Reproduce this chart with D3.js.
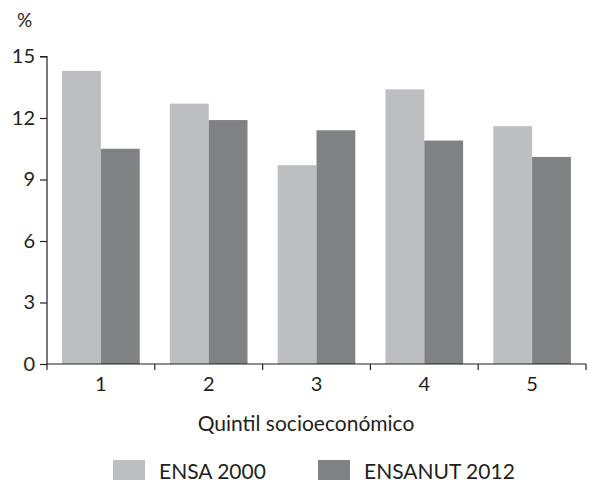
<!DOCTYPE html>
<html><head><meta charset="utf-8">
<script src="https://cdn.jsdelivr.net/npm/d3@7"></script>
<style>body{margin:0;background:#fff}svg{display:block}text{font-family:Lato,"Open Sans",sans-serif;fill:#231f20}</style>
</head><body>
<script>
const categories = ["1","2","3","4","5"];
const seriesNames = ["ENSA 2000","ENSANUT 2012"];
const ensa2000 = [14.3,12.7,9.7,13.4,11.6];
const ensanut2012 = [10.5,11.9,11.4,10.9,10.1];
const yTicks = [0,3,6,9,12,15];
const colors = ["#bdbec1","#808184"];

const W=589,H=483;
const svg=d3.select("body").append("svg").attr("width",W).attr("height",H);
const x=d3.scaleBand().domain(categories).range([47,586]).paddingInner(0.28).paddingOuter(0.14);
const xs=d3.scaleBand().domain(seriesNames).range([0,x.bandwidth()]);
const y=d3.scaleLinear().domain([0,15]).range([364,56.5]);
const series=[ensa2000,ensanut2012];

series.forEach((vals,si)=>{
  svg.append("g").selectAll("rect").data(vals).join("rect")
    .attr("x",(d,i)=>x(categories[i])+xs(seriesNames[si]))
    .attr("width",xs.bandwidth())
    .attr("y",d=>y(d)).attr("height",d=>y(0)-y(d))
    .attr("fill",colors[si]);
});

// y axis
const ya=svg.append("g").attr("transform","translate(47,0)")
  .call(d3.axisLeft(y).tickValues(yTicks).tickSize(7).tickPadding(5));
ya.select(".domain").attr("stroke","#231f20").attr("stroke-width",1.2).attr("d","M-7,56.5H0V364");
ya.selectAll(".tick line").attr("stroke","#231f20").attr("stroke-width",1.2);
ya.selectAll(".tick text").style("font-size","20px").attr("fill","#231f20");

// x axis
const step=x.step();
const xa=svg.append("g").attr("transform","translate(0,364)");
xa.append("line").attr("x1",47).attr("x2",586).attr("stroke","#231f20").attr("stroke-width",1.2);
const bounds=categories.map(c=>x(c)-x.paddingInner()*step/2);
bounds.push(x(categories[4])+x.bandwidth()+x.paddingInner()*step/2);
xa.selectAll("line.t").data(bounds).join("line").attr("class","t")
  .attr("x1",d=>d).attr("x2",d=>d).attr("y1",0).attr("y2",6)
  .attr("stroke","#231f20").attr("stroke-width",1.2);
xa.selectAll("text").data(categories).join("text")
  .attr("x",c=>x(c)+x.bandwidth()/2).attr("y",27).attr("text-anchor","middle")
  .style("font-size","20px").text(c=>c);

svg.append("text").attr("x",17).attr("y",27).style("font-size","19px").text("%");
svg.append("text").attr("x",306).attr("y",431).attr("text-anchor","middle").style("font-size","21px").text("Quintil socioeconómico");

// legend
const leg=[{x:113,tx:159},{x:318,tx:364}];
seriesNames.forEach((n,i)=>{
  svg.append("rect").attr("x",leg[i].x).attr("y",460).attr("width",32).attr("height",20).attr("fill",colors[i]);
  svg.append("text").attr("x",leg[i].tx).attr("y",479).style("font-size","21px").text(n);
});
</script>
</body></html>
